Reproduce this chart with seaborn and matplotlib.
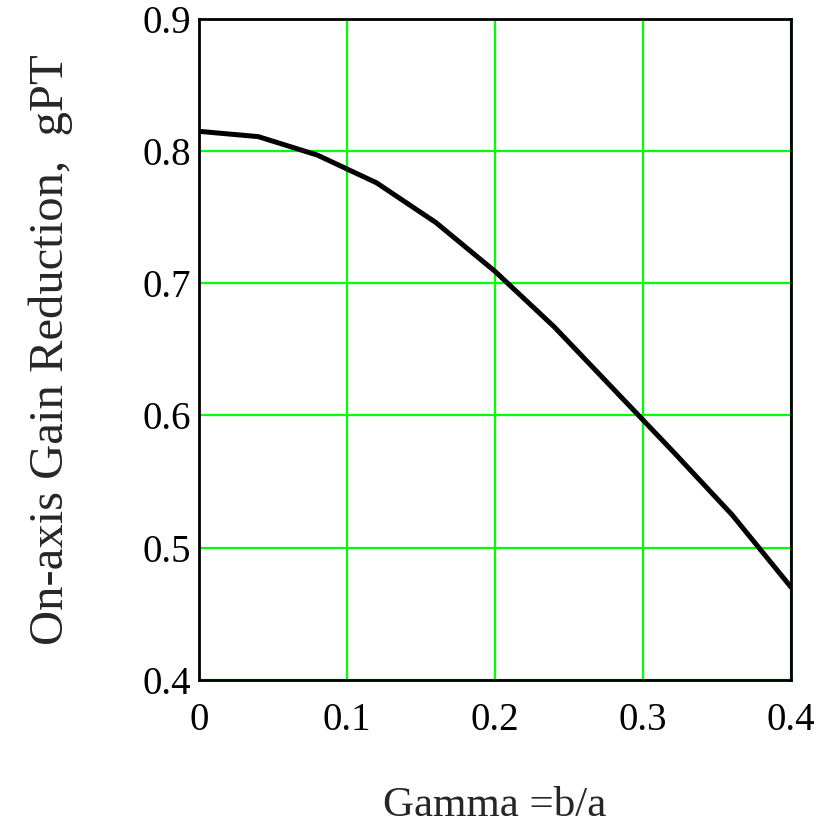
import matplotlib
matplotlib.use("Agg")
import matplotlib.pyplot as plt
import seaborn as sns
import pandas as pd

# values
gamma = [0.0, 0.04, 0.08, 0.12, 0.16, 0.20, 0.24, 0.28, 0.32, 0.36, 0.40]
gain = [0.815, 0.811, 0.797, 0.776, 0.746, 0.709, 0.667, 0.620, 0.573, 0.525, 0.470]
xticks = [0, 0.1, 0.2, 0.3, 0.4]
xtick_labels = ["0", "0.1", "0.2", "0.3", "0.4"]
yticks = [0.4, 0.5, 0.6, 0.7, 0.8, 0.9]
ytick_labels = ["0.4", "0.5", "0.6", "0.7", "0.8", "0.9"]

sns.set_style("white")
plt.rcParams['font.family'] = ['Liberation Serif', 'DejaVu Serif']

df = pd.DataFrame({"gamma": gamma, "gain": gain})

fig = plt.figure(figsize=(8.31, 8.26), dpi=100)
ax = fig.add_axes([0.2395, 0.177, 0.7125, 0.800])

sns.lineplot(data=df, x="gamma", y="gain", color="black", linewidth=3.6, ax=ax)

ax.set_xlim(0, 0.4)
ax.set_ylim(0.4, 0.9)
ax.set_xticks(xticks)
ax.set_xticklabels(xtick_labels)
ax.set_yticks(yticks)
ax.set_yticklabels(ytick_labels)
ax.grid(True, color="#00ff00", linewidth=1.6)
ax.set_axisbelow(True)
ax.tick_params(axis="both", length=0, labelsize=28, colors="black")
ax.tick_params(axis="x", pad=16)
ax.tick_params(axis="y", pad=6)
for s in ax.spines.values():
    s.set_visible(True)
    s.set_color("black")
    s.set_linewidth(2.0)

ax.set_xlabel("Gamma =b/a", fontsize=31, labelpad=34)
ax.set_ylabel("On-axis Gain Reduction,  gPT", fontsize=35, labelpad=50)

fig.savefig("out.png", dpi=100)
